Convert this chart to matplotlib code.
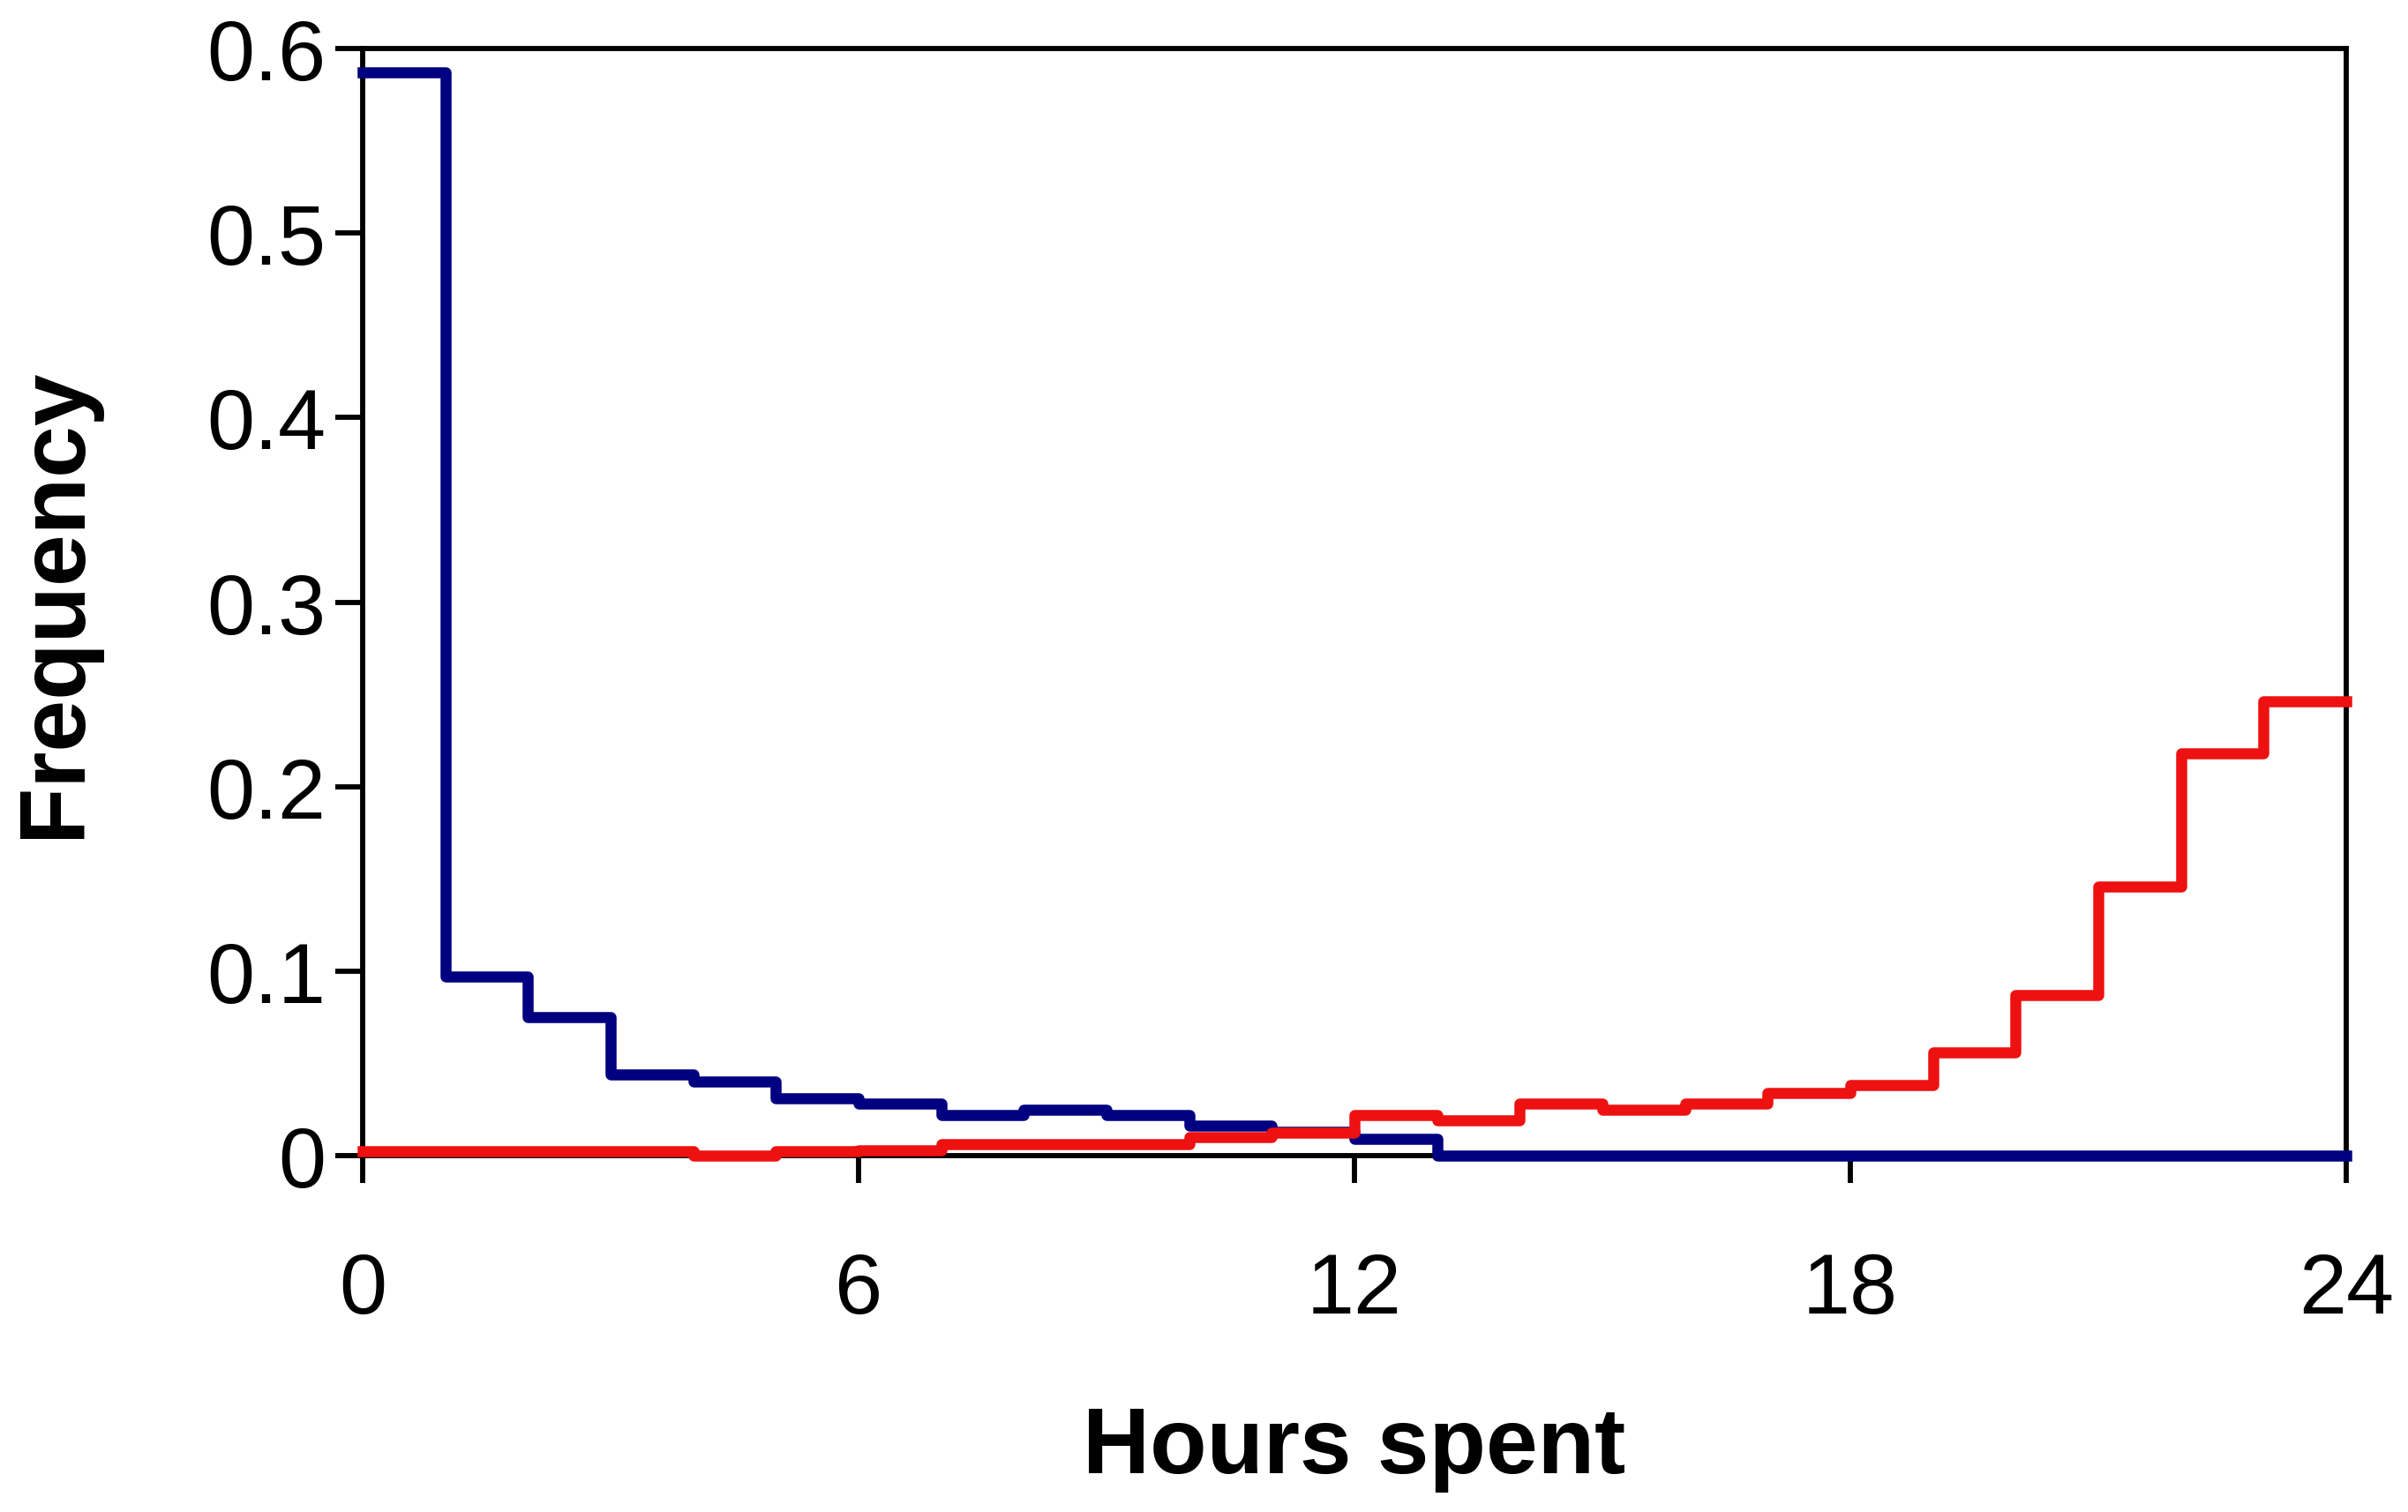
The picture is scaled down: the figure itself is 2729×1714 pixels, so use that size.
import numpy as np
import matplotlib.pyplot as plt

plt.rcParams['font.family'] = ['Liberation Sans', 'DejaVu Sans']

# hourly bins 0..24
hour_edges = np.arange(0, 25)
blue_freq = [0.587, 0.097, 0.075, 0.044, 0.040, 0.031, 0.028, 0.022, 0.025, 0.022,
             0.016, 0.013, 0.009, 0.0, 0.0, 0.0, 0.0, 0.0, 0.0, 0.0,
             0.0, 0.0, 0.0, 0.0]
red_freq = [0.0025, 0.0025, 0.0025, 0.0025, 0.0, 0.0025, 0.003, 0.006, 0.006, 0.006,
            0.010, 0.0125, 0.022, 0.019, 0.028, 0.025, 0.028, 0.034, 0.038, 0.056,
            0.087, 0.146, 0.218, 0.246]
x_ticks = [0, 6, 12, 18, 24]
y_ticks = [0, 0.1, 0.2, 0.3, 0.4, 0.5, 0.6]
y_tick_labels = ['0', '0.1', '0.2', '0.3', '0.4', '0.5', '0.6']

fig = plt.figure(figsize=(27.29, 17.15), dpi=100)
ax = fig.add_axes([0.1506, 0.2356, 0.8238, 0.7317])

ax.step(hour_edges, blue_freq + [blue_freq[-1]], where='post', color='#000080',
        lw=9, clip_on=False, zorder=3)
ax.step(hour_edges, red_freq + [red_freq[-1]], where='post', color='#ee1111',
        lw=9, clip_on=False, zorder=4)

ax.set_xlim(0, 24)
ax.set_ylim(0, 0.6)
ax.set_xticks(x_ticks)
ax.set_yticks(y_ticks)
ax.set_yticklabels(y_tick_labels)

for s in ax.spines.values():
    s.set_linewidth(4.2)
ax.tick_params(axis='both', direction='out', length=22, width=4.2, labelsize=70)
ax.tick_params(axis='x', pad=56)
ax.tick_params(axis='y', pad=8)

ax.set_xlabel('Hours spent', fontsize=76, fontweight='bold', labelpad=60)
ax.set_ylabel('Frequency', fontsize=76, fontweight='bold', labelpad=88)

fig.savefig('out.png', dpi=100, facecolor='white')
